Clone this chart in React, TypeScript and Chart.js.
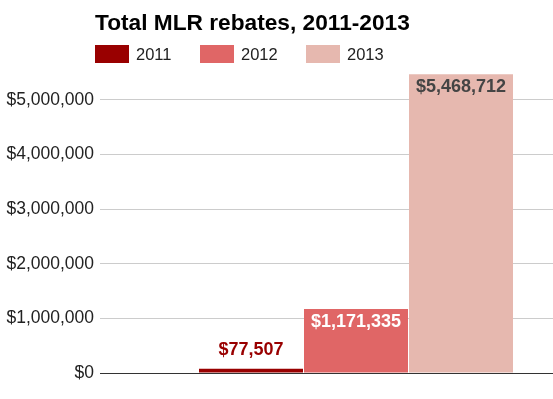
import React, { useEffect, useRef } from "react";
import { Chart, registerables } from "chart.js";

Chart.register(...registerables);

const TITLE = "Total MLR rebates, 2011-2013";
const CATEGORIES = ["Total"];
const SERIES_NAMES = ["2011", "2012", "2013"];
const VALUES_2011 = [77507];
const VALUES_2012 = [1171335];
const VALUES_2013 = [5468712];
const SERIES_COLORS = ["#990000", "#e06666", "#e6b8af"];
const LABEL_COLORS = ["#990000", "#ffffff", "#444444"];
const Y_MAX = 5500000;
const Y_STEP = 1000000;
const Y_TICKS = [0, 1000000, 2000000, 3000000, 4000000, 5000000];

const fmt = (v: number) => "$" + Math.round(v).toLocaleString("en-US");

const FONT = "Arial, 'Liberation Sans', sans-serif";

const overlayPlugin = {
  id: "overlay",
  afterDatasetsDraw(chart: any) {
    const ctx = chart.ctx as CanvasRenderingContext2D;
    ctx.save();
    chart.data.datasets.forEach((ds: any, i: number) => {
      const meta = chart.getDatasetMeta(i);
      meta.data.forEach((el: any, j: number) => {
        const v = ds.data[j];
        const h = el.base - el.y;
        ctx.font = `bold 18px ${FONT}`;
        ctx.textAlign = "center";
        ctx.textBaseline = "alphabetic";
        ctx.fillStyle = LABEL_COLORS[i];
        if (h > 30) {
          ctx.fillText(fmt(v), el.x, el.y + 17.5);
        } else {
          ctx.fillText(fmt(v), el.x, el.y - 14);
        }
      });
    });
    ctx.restore();
  },
  afterDraw(chart: any) {
    const ctx = chart.ctx as CanvasRenderingContext2D;
    ctx.save();
    ctx.font = `bold 22.7px ${FONT}`;
    ctx.fillStyle = "#000000";
    ctx.textAlign = "left";
    ctx.textBaseline = "alphabetic";
    ctx.fillText(TITLE, 95, 30);
    const xs = [95, 200, 306];
    ctx.font = `16.5px ${FONT}`;
    SERIES_NAMES.forEach((name, i) => {
      ctx.fillStyle = SERIES_COLORS[i];
      ctx.fillRect(xs[i], 45, 34, 18);
      ctx.fillStyle = "#222222";
      ctx.fillText(name, xs[i] + 41, 60);
    });
    ctx.restore();
  },
};

export default function App() {
  const ref = useRef<HTMLCanvasElement>(null);
  useEffect(() => {
    document.body.style.margin = "0";
    const chart = new Chart(ref.current!, {
      type: "bar",
      data: {
        labels: CATEGORIES,
        datasets: [VALUES_2011, VALUES_2012, VALUES_2013].map((d, i) => ({
          label: SERIES_NAMES[i],
          data: d,
          backgroundColor: SERIES_COLORS[i],
          borderWidth: 0,
          categoryPercentage: 315 / 512,
          barPercentage: 104 / 105,
        })),
      },
      options: {
        responsive: false,
        animation: false,
        devicePixelRatio: 1,
        layout: { padding: { top: 72.5, bottom: 26, left: 0, right: 0 } },
        plugins: {
          legend: { display: false },
          title: { display: false },
          tooltip: { enabled: false },
        },
        scales: {
          x: { display: false },
          y: {
            min: 0,
            max: Y_MAX,
            afterBuildTicks: (scale: any) => {
              scale.ticks = Y_TICKS.map((value) => ({ value }));
            },
            afterFit: (scale: any) => {
              scale.width = 100;
            },
            ticks: {
              autoSkip: false,
              stepSize: Y_STEP,
              padding: 6,
              color: "#222222",
              font: { family: FONT, size: 17.5 },
              callback: (v: any) => fmt(Number(v)),
            },
            grid: {
              drawTicks: false,
              color: (c: any) => (c.tick && c.tick.value === 0 ? "#333333" : "#cccccc"),
            },
            border: { display: false },
          },
        },
      },
      plugins: [overlayPlugin],
    });
    return () => chart.destroy();
  }, []);
  return (
    <div style={{ width: 553, height: 399, overflow: "hidden", position: "relative", background: "#fff" }}>
      <canvas ref={ref} width={612} height={399} style={{ display: "block" }} />
    </div>
  );
}
